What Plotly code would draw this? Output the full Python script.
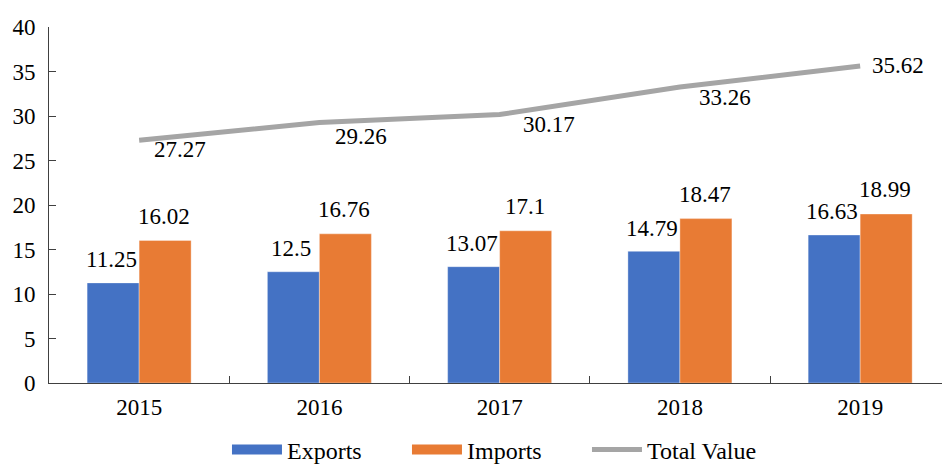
import plotly.graph_objects as go

years = ["2015", "2016", "2017", "2018", "2019"]
exports = [11.25, 12.5, 13.07, 14.79, 16.63]
imports = [16.02, 16.76, 17.1, 18.47, 18.99]
total = [27.27, 29.26, 30.17, 33.26, 35.62]
y_ticks = [0, 5, 10, 15, 20, 25, 30, 35, 40]

# label placement styles (pixel offsets)
total_dx = [41, 42, 49, 45, 38]
total_dy = [-9, -14, -10, -11, 0]

BLUE = "#4472C4"
ORANGE = "#E87B34"
GREY = "#A5A5A5"
FONT = "Liberation Serif, Times New Roman, serif"
FS = 23

fig = go.Figure()
fig.add_trace(go.Bar(x=years, y=exports, name="Exports", marker=dict(color=BLUE, line=dict(color="rgba(255,255,255,0.35)", width=1)), showlegend=False))
fig.add_trace(go.Bar(x=years, y=imports, name="Imports", marker=dict(color=ORANGE, line=dict(color="rgba(255,255,255,0.35)", width=1)), showlegend=False))
fig.add_trace(go.Scatter(x=years, y=total, name="Total Value", mode="lines", line=dict(color=GREY, width=5), showlegend=False))

# legend entries
fig.add_trace(go.Scatter(x=[None], y=[None], name="Exports", mode="lines", line=dict(color=BLUE, width=12)))
fig.add_trace(go.Scatter(x=[None], y=[None], name="Imports", mode="lines", line=dict(color=ORANGE, width=12)))
fig.add_trace(go.Scatter(x=[None], y=[None], name="Total Value", mode="lines", line=dict(color=GREY, width=5)))

anns = []
bar_off = 26
lab_font = dict(family=FONT, size=FS, color="black")
for i, v in enumerate(exports):
    anns.append(dict(x=i, y=v, xref="x", yref="y", text=f"{v:g}", showarrow=False,
                     xshift=-bar_off - 2, yshift=23, yanchor="middle", font=lab_font))
for i, v in enumerate(imports):
    anns.append(dict(x=i, y=v, xref="x", yref="y", text=f"{v:g}", showarrow=False,
                     xshift=bar_off - 1, yshift=24, yanchor="middle", font=lab_font))
for i, (v, dx, dy) in enumerate(zip(total, total_dx, total_dy)):
    anns.append(dict(x=i, y=v, xref="x", yref="y", text=f"{v:g}", showarrow=False,
                     xshift=dx, yshift=dy, yanchor="middle", font=lab_font))

fig.update_layout(
    width=942, height=464,
    margin=dict(l=49, r=0, t=27, b=81, autoexpand=False),
    paper_bgcolor="white", plot_bgcolor="white",
    font=dict(family=FONT, size=FS, color="black"),
    barmode="group", bargap=0.423, bargroupgap=0,
    annotations=anns,
    legend=dict(orientation="h", x=0.1993, xanchor="left", y=-0.188, yanchor="middle",
                itemwidth=50, traceorder="normal", font=dict(family=FONT, size=24),
                entrywidth=115, entrywidthmode="pixels"),
)
fig.update_xaxes(type="category", range=[-0.5, 4.454], showline=True, linecolor="#404040", linewidth=1,
                 ticks="inside", tickson="boundaries", ticklen=7, tickcolor="#404040",
                 showgrid=False, zeroline=False, tickfont=dict(family=FONT, size=FS),
                 ticklabelstandoff=3)
fig.update_yaxes(range=[0, 40], tickvals=y_ticks, showline=True, linecolor="#404040", linewidth=1,
                 ticks="inside", ticklen=7, tickcolor="#404040", showgrid=False, zeroline=False,
                 tickfont=dict(family=FONT, size=FS), ticklabelstandoff=8)

post = "document.body.style.margin='0';"
fig.write_html("out.html", post_script=post, config={"displayModeBar": False})
